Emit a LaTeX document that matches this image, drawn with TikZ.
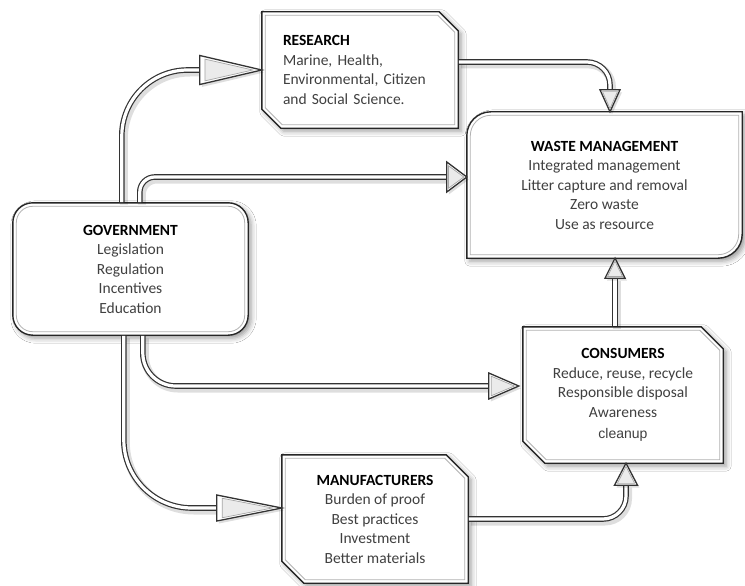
\documentclass[tikz,border=0pt]{standalone}
\usepackage{fontspec}
\setmainfont{Carlito}
\newfontfamily\arialfont{Liberation Sans}
\usetikzlibrary{calc,shadows.blur}
\pgfdeclarelayer{background}
\pgfsetlayers{background,main}

% snipped-corner outline (top right, bottom left); #1 node, #2 snip, #3 inset
\newcommand\snippath[3]{%
  ([xshift=#3pt, yshift=-#3pt]#1.north west)
  -- ([xshift={-#2-0.414*#3}, yshift=-#3pt]#1.north east)
  -- ([xshift=-#3pt, yshift={-#2-0.414*#3}]#1.north east)
  -- ([xshift=-#3pt, yshift=#3pt]#1.south east)
  -- ([xshift={#2+0.414*#3}, yshift=#3pt]#1.south west)
  -- ([xshift=#3pt, yshift={#2+0.414*#3}]#1.south west)
  -- cycle}

% outline rounded at top left and bottom right; #1 node, #2 radius, #3 inset
\newcommand\diagroundpath[3]{%
  ([xshift=#3pt, yshift=#3pt]#1.south west)
  -- ([xshift=#3pt, yshift=-#2pt]#1.north west)
  .. controls ([xshift=#3pt, yshift={-#2+0.552*(#2-#3)}]#1.north west)
  and ([xshift={#2-0.552*(#2-#3)}, yshift=-#3pt]#1.north west)
  .. ([xshift=#2pt, yshift=-#3pt]#1.north west)
  -- ([xshift=-#3pt, yshift=-#3pt]#1.north east)
  -- ([xshift=-#3pt, yshift=#2pt]#1.south east)
  .. controls ([xshift=-#3pt, yshift={#2-0.552*(#2-#3)}]#1.south east)
  and ([xshift={-#2+0.552*(#2-#3)}, yshift=#3pt]#1.south east)
  .. ([xshift=-#2pt, yshift=#3pt]#1.south east)
  -- cycle}

% open arrow head from base #1 to tip #2 with half width #3
\newcommand\arrowtip[3]{%
  \coordinate (tipa) at ($(#1)!#3pt!90:(#2)$);
  \coordinate (tipb) at ($(#1)!#3pt!-90:(#2)$);
  \coordinate (tipc) at ($(#1)!0.333!(#2)$);
  \draw[tipouter] (#2) -- (tipa) -- (tipb) -- cycle;
  \draw[tipinner] ($(#2)!0.22!(tipc)$) -- ($(tipa)!0.25!(tipc)$) -- ($(tipb)!0.25!(tipc)$) -- cycle;}

\newcommand\hd[1]{{\bfseries\color{black}#1}}

\tikzset{
  every node/.style={font=\fontsize{15.5}{19.5}\selectfont, text=black!75},
  boxnode/.style={inner sep=0pt, align=center},
  boxline/.style={draw=black!85, line width=1.4pt, fill=white,
    blur shadow={shadow xshift=3pt, shadow yshift=-3pt, shadow blur radius=5pt, shadow opacity=40}},
  innerline/.style={draw=black!30, line width=0.8pt},
  tube/.style={draw=black!80, line width=5.6pt, shorten <=0.6pt,
    preaction={draw=black, draw opacity=0.13, line width=8pt, transform canvas={xshift=2pt, yshift=-2.5pt}},
    postaction={draw=white, line width=3.2pt, shorten <=0.6pt}},
  tipouter/.style={draw=black!80, line width=1.3pt, fill=white, line join=miter,
    preaction={fill=black, fill opacity=0.13, transform canvas={xshift=2pt, yshift=-2.5pt}}},
  tipinner/.style={draw=black!35, line width=0.7pt, fill=black!8}
}

\begin{document}
\begin{tikzpicture}[x=1pt, y=-1pt]
\begin{pgfonlayer}{background}
\fill[white] (0,0) rectangle (745,586);
\end{pgfonlayer}
\useasboundingbox (0,0) rectangle (745,586);

% boxes
\node[boxnode, minimum width=196pt, minimum height=116pt, text width=154pt, align=left] (res) at (360,70)
  {\hd{RESEARCH}\\Marine, Health,\\Environmental, Citizen\\and Social Science.};
\node[boxnode, minimum width=275pt, minimum height=146pt] (waste) at (604.5,185)
  {\hd{WASTE MANAGEMENT}\\Integrated management\\Litter capture and removal\\Zero waste\\Use as resource};
\node[boxnode, minimum width=235pt, minimum height=132pt] (gov) at (130.5,269)
  {\hd{GOVERNMENT}\\Legislation\\Regulation\\Incentives\\Education};
\node[boxnode, minimum width=200pt, minimum height=136pt] (cons) at (623,395)
  {\hd{CONSUMERS}\\Reduce, reuse, recycle\\Responsible disposal\\Awareness\\[1.5pt]{\arialfont\fontsize{14}{19}\selectfont cleanup}};
\node[boxnode, minimum width=186pt, minimum height=128pt] (mfr) at (375,519)
  {\hd{MANUFACTURERS}\\Burden of proof\\Best practices\\Investment\\Better materials};

% box outlines behind the texts
\begin{pgfonlayer}{background}
\path[boxline] \snippath{res}{19}{0};
\draw[innerline] \snippath{res}{19}{3.5};
\path[boxline] \diagroundpath{waste}{24}{0};
\draw[innerline] \diagroundpath{waste}{24}{3.5};
\path[boxline, rounded corners=20pt] (gov.north west) rectangle (gov.south east);
\draw[innerline, rounded corners=16.5pt] ([xshift=3.5pt, yshift=-3.5pt]gov.north west) rectangle ([xshift=-3.5pt, yshift=3.5pt]gov.south east);
\path[boxline] \snippath{cons}{22}{0};
\draw[innerline] \snippath{cons}{22}{3.5};
\path[boxline] \snippath{mfr}{22}{0};
\draw[innerline] \snippath{mfr}{22}{3.5};
\end{pgfonlayer}

% arrow end points
\coordinate (t1) at (res.west);
\coordinate (b1) at ([xshift=-62pt]t1);
\coordinate (t2) at ([yshift=8pt]waste.west);
\coordinate (b2) at ([xshift=-20pt]t2);
\coordinate (t3) at ([xshift=5.5pt]waste.north);
\coordinate (b3) at ([yshift=22pt]t3);
\coordinate (t4) at ([xshift=-4pt, yshift=9pt]cons.west);
\coordinate (b4) at ([xshift=-30pt]t4);
\coordinate (t5) at ([yshift=11pt]mfr.west);
\coordinate (b5) at ([xshift=-65pt]t5);
\coordinate (t6) at ([xshift=3pt]cons.south);
\coordinate (b6) at ([yshift=-22pt]t6);
\coordinate (s7) at ([xshift=-8pt]cons.north);
\coordinate (t7) at (s7 |- waste.south);
\coordinate (b7) at ([yshift=-20pt]t7);

% connectors
\draw[tube, rounded corners=66pt] ([xshift=109pt]gov.north west) |- (b1);
\draw[tube, rounded corners=15pt] ([xshift=127pt]gov.north west) |- (b2);
\draw[tube, rounded corners=23pt] ([yshift=8pt]res.east) -| (b3);
\draw[tube, rounded corners=33pt] ([xshift=130pt]gov.south west) |- (b4);
\draw[tube, rounded corners=68pt] ([xshift=111pt]gov.south west) |- (b5);
\draw[tube, rounded corners=23pt] (mfr.east) -| (b6);
\draw[tube] (s7) -- (b7);

% arrow heads
\arrowtip{b1}{t1}{14.5}
\arrowtip{b2}{t2}{15}
\arrowtip{b3}{t3}{10}
\arrowtip{b4}{t4}{13}
\arrowtip{b5}{t5}{13}
\arrowtip{b6}{t6}{11.5}
\arrowtip{b7}{t7}{10}
\end{tikzpicture}
\end{document}
